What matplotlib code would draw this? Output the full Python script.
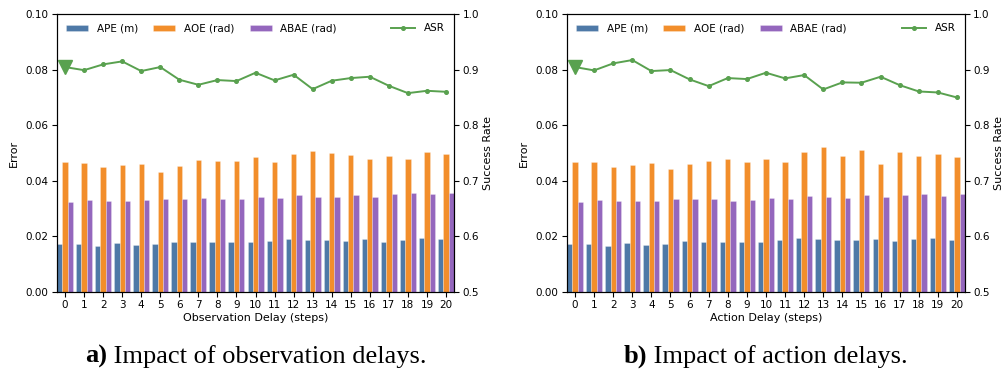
import matplotlib
matplotlib.use("Agg")
import matplotlib.pyplot as plt
import numpy as np

delays = list(range(21))

# Observation delay (a)
obs_ape = [0.0172, 0.0172, 0.0164, 0.0178, 0.0168, 0.0172, 0.0180, 0.0179, 0.0180, 0.0179, 0.0179,
           0.0184, 0.0190, 0.0188, 0.0186, 0.0185, 0.0191, 0.0180, 0.0186, 0.0196, 0.0190]
obs_aoe = [0.0467, 0.0463, 0.0450, 0.0457, 0.0461, 0.0433, 0.0455, 0.0474, 0.0471, 0.0472, 0.0485,
           0.0468, 0.0496, 0.0507, 0.0499, 0.0493, 0.0478, 0.0489, 0.0478, 0.0505, 0.0496]
obs_abae = [0.0323, 0.0331, 0.0328, 0.0328, 0.0330, 0.0334, 0.0336, 0.0337, 0.0334, 0.0333, 0.0341,
            0.0337, 0.0350, 0.0342, 0.0342, 0.0350, 0.0341, 0.0354, 0.0357, 0.0354, 0.0357]
obs_asr = [0.9046, 0.8990, 0.9094, 0.9148, 0.8974, 0.9046, 0.8818, 0.8727, 0.8812, 0.8794, 0.8944,
           0.8806, 0.8908, 0.8649, 0.8800, 0.8848, 0.8872, 0.8709, 0.8577, 0.8619, 0.8601]

# Action delay (b)
act_ape = [0.0172, 0.0172, 0.0164, 0.0178, 0.0169, 0.0174, 0.0182, 0.0180, 0.0180, 0.0179, 0.0179,
           0.0186, 0.0194, 0.0190, 0.0187, 0.0186, 0.0190, 0.0184, 0.0191, 0.0194, 0.0188]
act_aoe = [0.0467, 0.0466, 0.0449, 0.0456, 0.0463, 0.0442, 0.0461, 0.0472, 0.0478, 0.0469, 0.0478,
           0.0469, 0.0504, 0.0520, 0.0490, 0.0510, 0.0460, 0.0503, 0.0491, 0.0495, 0.0484]
act_abae = [0.0324, 0.0331, 0.0327, 0.0327, 0.0329, 0.0334, 0.0336, 0.0334, 0.0328, 0.0331, 0.0337,
            0.0334, 0.0345, 0.0341, 0.0337, 0.0348, 0.0340, 0.0348, 0.0353, 0.0345, 0.0351]
act_asr = [0.9046, 0.8986, 0.9112, 0.9172, 0.8974, 0.8992, 0.8824, 0.8703, 0.8848, 0.8830, 0.8944,
           0.8842, 0.8902, 0.8643, 0.8770, 0.8764, 0.8872, 0.8721, 0.8607, 0.8589, 0.8499]

xlabels = ["Observation Delay (steps)", "Action Delay (steps)"]
captions = [("a)", " Impact of observation delays."), ("b)", " Impact of action delays.")]

C_APE = "#4e79a7"
C_AOE = "#f28e2b"
C_ABAE = "#9467bd"
C_ASR = "#59a14f"

plt.rcParams["font.family"] = "DejaVu Sans"
FS = 7.5

fig = plt.figure(figsize=(10.06, 3.69), dpi=100)
axes_pos = [[0.0567, 0.2087, 0.3946, 0.7533], [0.5636, 0.2087, 0.3956, 0.7533]]
datasets = [(obs_ape, obs_aoe, obs_abae, obs_asr), (act_ape, act_aoe, act_abae, act_asr)]

w = 0.28
x = np.array(delays)
for i, (ape, aoe, abae, asr) in enumerate(datasets):
    ax = fig.add_axes(axes_pos[i])
    kw = dict(width=w, edgecolor=(1, 1, 1, 0.35), linewidth=0.5)
    ax.bar(x - w, ape, color=C_APE, label="APE (m)", **kw)
    ax.bar(x, aoe, color=C_AOE, label="AOE (rad)", **kw)
    ax.bar(x + w, abae, color=C_ABAE, label="ABAE (rad)", **kw)
    ax.set_ylim(0, 0.10)
    ax.set_xlim(-1.5 * w, 20 + 1.5 * w)
    ax.set_xticks(x)
    ax.set_xticklabels([str(d) for d in delays])
    ax.set_yticks([0.0, 0.02, 0.04, 0.06, 0.08, 0.10])
    ax.set_yticklabels(["0.00", "0.02", "0.04", "0.06", "0.08", "0.10"])
    ax.tick_params(labelsize=FS, length=3.5, width=0.8, pad=2.5)
    ax.set_ylabel("Error", fontsize=FS + 0.5, labelpad=5)
    ax.set_xlabel(xlabels[i], fontsize=FS + 0.5, labelpad=2)
    ax.legend(loc="upper left", ncol=3, frameon=False, fontsize=FS,
              handlelength=2.1, handleheight=0.5, columnspacing=1.5,
              bbox_to_anchor=(0.0, 1.0), borderaxespad=0.5)

    ax2 = ax.twinx()
    ax2.plot(x, asr, color=C_ASR, marker="o", markersize=2.6, linewidth=1.4, label="ASR")
    ax2.plot([x[0]], [asr[0]], marker="v", markersize=10, color=C_ASR, linestyle="none")
    ax2.set_ylim(0.5, 1.0)
    ax2.set_yticks([0.5, 0.6, 0.7, 0.8, 0.9, 1.0])
    ax2.tick_params(labelsize=FS, length=3.5, width=0.8, pad=2.5)
    ax2.set_ylabel("Success Rate", fontsize=FS + 0.5, labelpad=3)
    h, l = ax2.get_legend_handles_labels()
    ax2.legend(h[:1], l[:1], loc="upper right", frameon=False, fontsize=FS,
               handlelength=2.3, borderaxespad=0.5)

    cx = axes_pos[i][0] + axes_pos[i][2] / 2
    t1 = fig.text(0, 0, captions[i][0], fontsize=19, fontweight="bold",
                  family="Liberation Serif", va="baseline", ha="left")
    t2 = fig.text(0, 0, captions[i][1], fontsize=19,
                  family="Liberation Serif", va="baseline", ha="left")
    fig.canvas.draw()
    r = fig.canvas.get_renderer()
    w1 = t1.get_window_extent(r).width / fig.bbox.width
    w2 = t2.get_window_extent(r).width / fig.bbox.width
    start = cx - (w1 + w2) / 2
    yb = 1 - 363 / 369
    t1.set_position((start, yb))
    t2.set_position((start + w1, yb))

fig.savefig("out.png", dpi=100)
